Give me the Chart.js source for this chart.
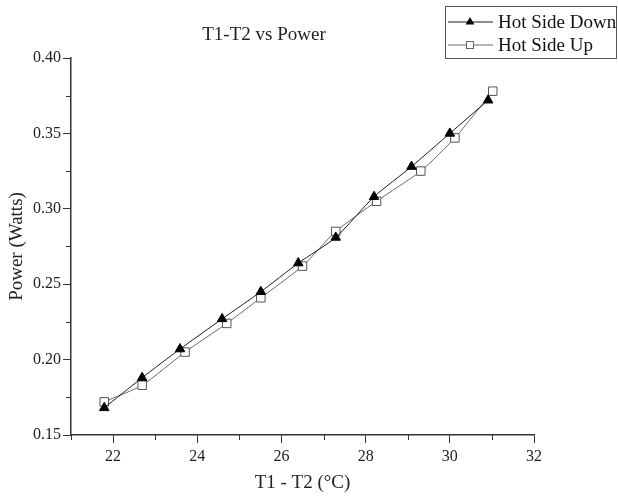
<!DOCTYPE html>
<html>
<head>
<meta charset="utf-8">
<script src="https://cdn.jsdelivr.net/npm/chart.js@4.4.1/dist/chart.umd.min.js"></script>
<style>
  body { margin: 0; background: #fff; }
  canvas { display: block; }
</style>
</head>
<body>
<canvas id="chart" width="618" height="497"></canvas>
<script>
// data
var hotDownX = [21.79, 22.69, 23.59, 24.59, 25.51, 26.40, 27.29, 28.20, 29.09, 30.00, 30.91];
var hotDownY = [0.168, 0.188, 0.207, 0.227, 0.245, 0.264, 0.281, 0.308, 0.328, 0.350, 0.372];
var hotUpX = [21.79, 22.69, 23.71, 24.70, 25.51, 26.50, 27.29, 28.26, 29.31, 30.12, 31.02];
var hotUpY = [0.172, 0.183, 0.205, 0.224, 0.241, 0.262, 0.285, 0.305, 0.325, 0.347, 0.378];
var xTicks = [22, 24, 26, 28, 30, 32];
var xMinor = [21, 23, 25, 27, 29, 31];
var yTicks = [0.15, 0.20, 0.25, 0.30, 0.35, 0.40];
var yMinor = [0.175, 0.225, 0.275, 0.325, 0.375];
var seriesNames = ['Hot Side Down', 'Hot Side Up'];

var serif = "'Liberation Serif', 'DejaVu Serif', serif";
var axisColor = '#333';

function toPoints(xs, ys) {
    var pts = [];
    for (var i = 0; i < xs.length; i++) {
        pts.push({x: xs[i], y: ys[i]});
    }
    return pts;
}

function drawTri(ctx, x, y, r) {
    ctx.beginPath();
    ctx.moveTo(x, y - r);
    ctx.lineTo(x + r * 0.866, y + r * 0.5);
    ctx.lineTo(x - r * 0.866, y + r * 0.5);
    ctx.closePath();
    ctx.fill();
}

// title, minor ticks and boxed legend
var extras = {
    id: 'extras',
    afterDraw: function(chart) {
        var ctx = chart.ctx;
        var xs = chart.scales.x, ys = chart.scales.y;
        ctx.save();

        ctx.strokeStyle = axisColor;
        ctx.lineWidth = 1;
        xMinor.forEach(function(v) {
            var px = Math.round(xs.getPixelForValue(v)) + 0.5;
            ctx.beginPath();
            ctx.moveTo(px, ys.bottom);
            ctx.lineTo(px, ys.bottom + 5);
            ctx.stroke();
        });
        yMinor.forEach(function(v) {
            var py = Math.round(ys.getPixelForValue(v)) + 0.5;
            ctx.beginPath();
            ctx.moveTo(xs.left, py);
            ctx.lineTo(xs.left - 5, py);
            ctx.stroke();
        });

        ctx.fillStyle = '#222';
        ctx.font = '19px ' + serif;
        ctx.textAlign = 'center';
        ctx.textBaseline = 'middle';
        ctx.fillText('T1-T2 vs Power', 264, 35);

        // legend box
        ctx.strokeStyle = '#555';
        ctx.strokeRect(445.5, 6.5, 171, 52);
        var rows = [22, 45];
        chart.data.datasets.forEach(function(ds, i) {
            var y = rows[i];
            ctx.strokeStyle = ds.borderColor;
            ctx.lineWidth = 1;
            ctx.beginPath();
            ctx.moveTo(448, y);
            ctx.lineTo(493, y);
            ctx.stroke();
            if (i === 0) {
                ctx.fillStyle = '#000';
                drawTri(ctx, 470, y, 5);
            } else {
                ctx.fillStyle = '#fff';
                ctx.fillRect(466.5, y - 3.5, 7, 7);
                ctx.strokeStyle = '#666';
                ctx.strokeRect(466.5, y - 3.5, 7, 7);
            }
            ctx.fillStyle = '#111';
            ctx.font = '19px ' + serif;
            ctx.textAlign = 'left';
            ctx.fillText(ds.label, 498, y + 1);
        });
        ctx.restore();
    }
};

var ctx = document.getElementById('chart').getContext('2d');
var chart = new Chart(ctx, {
    type: 'line',
    data: {
        datasets: [{
            label: seriesNames[0],
            data: toPoints(hotDownX, hotDownY),
            borderColor: '#1a1a1a',
            borderWidth: 1,
            pointStyle: 'triangle',
            pointRadius: 5.5,
            pointBackgroundColor: '#000',
            pointBorderColor: '#000',
            pointBorderWidth: 1,
            tension: 0.2,
            fill: false
        }, {
            label: seriesNames[1],
            data: toPoints(hotUpX, hotUpY),
            borderColor: '#6a6a6a',
            borderWidth: 1,
            pointStyle: 'rect',
            pointRadius: 6,
            pointBackgroundColor: '#fff',
            pointBorderColor: '#555',
            pointBorderWidth: 1,
            tension: 0.2,
            fill: false
        }]
    },
    options: {
        responsive: false,
        animation: false,
        layout: { padding: { left: 0, top: 58, right: 84, bottom: 0 } },
        plugins: {
            legend: { display: false },
            title: { display: false },
            tooltip: { enabled: false }
        },
        scales: {
            x: {
                type: 'linear',
                min: 21,
                max: 32,
                afterBuildTicks: function(scale) {
                    scale.ticks = xTicks.map(function(v) { return {value: v}; });
                },
                afterFit: function(scale) { scale.height = 62; },
                grid: { drawOnChartArea: false, drawTicks: true, tickLength: 8, color: axisColor },
                border: { display: true, color: axisColor, width: 1.5 },
                ticks: {
                    color: '#222',
                    font: { family: serif, size: 16 },
                    padding: 4,
                    maxRotation: 0
                },
                title: {
                    display: true,
                    text: 'T1 - T2 (°C)',
                    color: '#222',
                    font: { family: serif, size: 19 },
                    padding: { top: 4, bottom: 3 }
                }
            },
            y: {
                type: 'linear',
                min: 0.15,
                max: 0.40,
                afterBuildTicks: function(scale) {
                    scale.ticks = yTicks.map(function(v) { return {value: v}; });
                },
                afterFit: function(scale) { scale.width = 71; },
                grid: { drawOnChartArea: false, drawTicks: true, tickLength: 8, color: axisColor },
                border: { display: true, color: axisColor, width: 1.5 },
                ticks: {
                    color: '#222',
                    font: { family: serif, size: 16 },
                    padding: 2,
                    callback: function(v) { return v.toFixed(2); }
                },
                title: {
                    display: true,
                    text: 'Power (Watts)',
                    color: '#222',
                    font: { family: serif, size: 19 },
                    padding: { top: 6, bottom: 2 }
                }
            }
        }
    },
    plugins: [extras]
});
</script>
</body>
</html>
